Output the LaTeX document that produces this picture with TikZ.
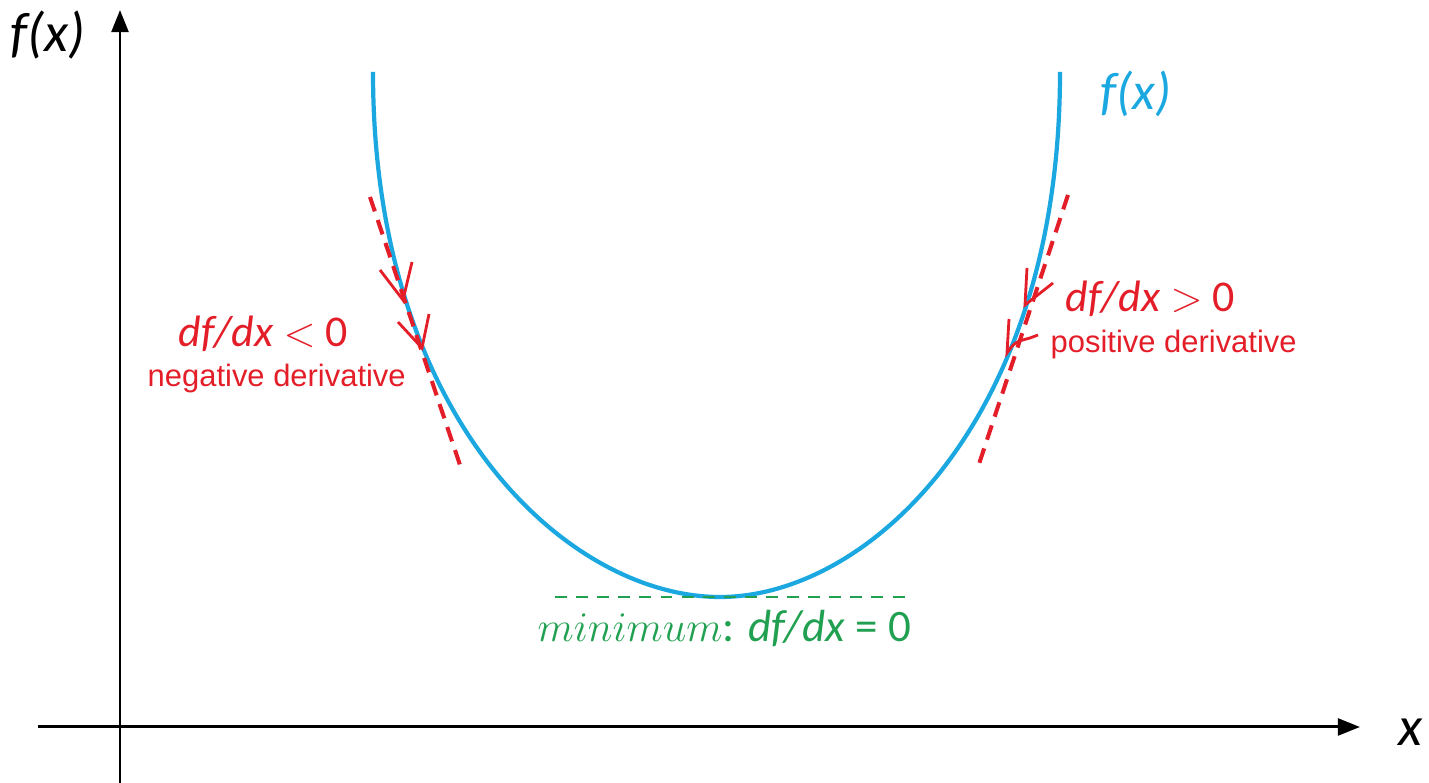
\documentclass[tikz,border=0pt]{standalone}
\usepackage{fontspec}
\setmainfont{Carlito}
\newfontfamily\arial{Liberation Sans}
\usepackage{tikz}
\usetikzlibrary{arrows.meta, positioning, calc}
\definecolor{azul}{RGB}{27,168,224}
\definecolor{vermelho}{RGB}{228,30,40}
\definecolor{verde}{RGB}{32,160,80}

\begin{document}
\begin{tikzpicture}[
        x=0.01cm, y=-0.01cm,
        eixo/.style={-{Triangle[length=6.3pt, width=4.8pt]}, line width=0.85pt},
        curva/.style={azul, line width=1.2pt},
        tangente/.style={vermelho, line width=1.15pt, dash pattern=on 4.3pt off 2.6pt},
        ponta/.style={vermelho, line width=0.8pt, line join=miter},
        minimo/.style={verde, line width=0.75pt, dash pattern=on 3.4pt off 2.6pt},
        rotulo/.style={inner sep=0pt, anchor=base west},
        grande/.style={font=\fontsize{12.5}{14}\selectfont},
        pequeno/.style={font=\arial\fontsize{8.8}{10}\selectfont}
    ]
        \useasboundingbox (0,0) rectangle (1429,783);

        % eixos
        \coordinate (origem) at (120,727);
        \coordinate (ybase) at (120,783);
        \coordinate (ytopo) at (120,10);
        \coordinate (xbase) at (38,727);
        \coordinate (xfim) at (1360,727);
        \draw[eixo] (ybase) -- (ytopo);
        \draw[eixo] (xbase) -- (xfim);
        \node[rotulo, font=\itshape\fontsize{15.8}{18}\selectfont] (fy) at (10,52) {f(x)};
        \node[rotulo, font=\itshape\fontsize{15.8}{18}\selectfont] (xr) at (1398,746) {x};

        % curva
        \coordinate (esq) at (373,72);
        \coordinate (fundo) at (720,597);
        \coordinate (dir) at (1060,72);
        \draw[curva] (esq) .. controls (373,422) and (570,597) .. (fundo)
            .. controls (867,597) and (1060,422) .. (dir);
        \node[rotulo, azul, font=\itshape\fontsize{15}{18}\selectfont] (fcurva) at (1100,110) {f(x)};

        % tangentes
        \draw[tangente] (370,197) -- (460,465);
        \draw[tangente] (1068,195) -- (978,467);
        \draw[ponta] (380,270) -- (403,300) -- (412,262);
        \draw[ponta] (398,322) -- (422,348) -- (429,314);
        \draw[ponta] (1027,268) -- (1025,305) -- (1053,283);
        \draw[ponta] (1009,319) -- (1007,353) .. controls (1015,342) .. (1030,338) -- (1038,335);

        \node[rotulo, vermelho, grande] (neg) at (178,347) {\textit{df/dx} $<$ 0};
        \node[rotulo, vermelho, pequeno] (negtxt) at (147,387) {negative derivative};
        \node[rotulo, vermelho, grande] (pos) at (1065,312) {\textit{df/dx} $>$ 0};
        \node[rotulo, vermelho, pequeno] (postxt) at (1050,353) {positive derivative};

        % minimo
        \coordinate (mesq) at (555,597);
        \coordinate (mdir) at (905,597);
        \draw[minimo] (mesq) -- (mdir);
        \node[rotulo, verde, font=\fontsize{12.8}{15}\selectfont] (min) at (537,642) {$minimum$: \textit{df/dx} = 0};
    \end{tikzpicture}
\end{document}
